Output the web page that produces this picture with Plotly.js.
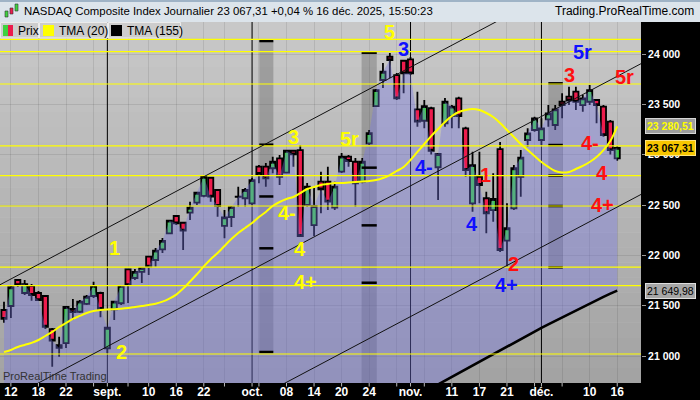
<!DOCTYPE html>
<html><head><meta charset="utf-8">
<script src="https://cdn.plot.ly/plotly-3.0.1.min.js"></script>
<style>html,body{margin:0;padding:0;background:#000;overflow:hidden}#chart{width:700px;height:400px}</style>
</head><body><div id="chart"></div>
<script>
// ---------------- DATA ----------------
const dates = [
 '2025-08-11','2025-08-12','2025-08-13','2025-08-14','2025-08-15',
 '2025-08-18','2025-08-19','2025-08-20','2025-08-21','2025-08-22',
 '2025-08-25','2025-08-26','2025-08-27','2025-08-28','2025-08-29',
 '2025-09-02','2025-09-03','2025-09-04','2025-09-05',
 '2025-09-08','2025-09-09','2025-09-10','2025-09-11','2025-09-12',
 '2025-09-15','2025-09-16','2025-09-17','2025-09-18','2025-09-19',
 '2025-09-22','2025-09-23','2025-09-24','2025-09-25','2025-09-26',
 '2025-09-29','2025-09-30',
 '2025-10-01','2025-10-02','2025-10-03',
 '2025-10-06','2025-10-07','2025-10-08','2025-10-09','2025-10-10',
 '2025-10-13','2025-10-14','2025-10-15','2025-10-16','2025-10-17',
 '2025-10-20','2025-10-21','2025-10-22','2025-10-23','2025-10-24',
 '2025-10-27','2025-10-28','2025-10-29','2025-10-30','2025-10-31',
 '2025-11-03','2025-11-04','2025-11-05','2025-11-06','2025-11-07',
 '2025-11-10','2025-11-11','2025-11-12','2025-11-13','2025-11-14',
 '2025-11-17','2025-11-18','2025-11-19','2025-11-20','2025-11-21',
 '2025-11-24','2025-11-25','2025-11-26','2025-11-28',
 '2025-12-01','2025-12-02','2025-12-03','2025-12-04','2025-12-05',
 '2025-12-08','2025-12-09','2025-12-10','2025-12-11','2025-12-12',
 '2025-12-15','2025-12-16'];

const openP = [21457,21497,21755,21626,21696,21626,21596,21268,21109,21129,
 21467,21440,21517,21596,21626,21077,21464,21524,21861,21775,
 21835,21987,21954,22060,22219,22391,22324,22424,22523,22590,
 22771,22649,22292,22381,22583,22567,22517,22881,22881,22865,
 22964,22821,23039,23046,22500,22301,22732,22732,22475,22831,
 22980,22930,22732,23113,23483,23742,23973,23791,23933,23947,
 23451,23337,23461,22875,23312,23384,23560,23262,22517,22781,
 22567,22450,23056,22146,22467,22781,23146,23245,23146,23351,
 23295,23526,23576,23626,23493,23526,23543,23477,23328,22964];
const highP = [21540,21705,21765,21755,21715,21646,21606,21278,21192,21490,
 21566,21556,21606,21738,21639,21291,21550,21705,21864,21864,
 21880,21990,22073,22172,22351,22401,22334,22533,22632,22798,
 22781,22656,22450,22490,22682,22669,22768,22897,22917,22980,
 22997,23046,23046,23096,22719,22669,22831,22881,22732,23017,
 22997,22967,22967,23245,23652,23911,24010,23811,23940,23970,
 23626,23543,23477,23017,23563,23493,23576,23278,23030,23030,
 22632,22815,23126,22517,22897,23046,23262,23377,23361,23493,
 23493,23610,23675,23675,23593,23692,23543,23493,23344,23085];
const lowP = [21331,21378,21686,21606,21550,21547,21268,20894,20993,21080,
 21358,21427,21507,21576,21385,21027,21358,21507,21527,21755,
 21725,21805,21887,22023,22209,22301,22053,22351,22500,22576,
 22533,22384,22169,22282,22483,22483,22500,22716,22682,22815,
 22699,22815,22881,22182,22483,22192,22418,22450,22450,22818,
 22881,22483,22716,23096,23477,23662,23762,23543,23610,23791,
 23278,23262,23003,22550,23278,23262,23262,22781,22434,22517,
 22219,22334,22033,21887,22450,22583,23079,23228,23096,23278,
 23245,23361,23493,23444,23427,23493,23312,23179,23003,22940];
const closeP = [21368,21683,21705,21715,21606,21556,21291,21152,21080,21487,
 21437,21540,21589,21696,21467,21281,21540,21696,21705,21835,
 21874,21887,22046,22143,22344,22318,22245,22473,22622,22781,
 22583,22490,22378,22480,22580,22649,22748,22808,22765,22930,
 22781,23039,23003,22192,22682,22490,22656,22533,22682,22980,
 22937,22716,22930,23215,23642,23824,23940,23560,23808,23808,
 23328,23483,23039,23007,23526,23477,23384,22848,22897,22699,
 22418,22560,22053,22269,22865,22970,23212,23361,23262,23411,
 23451,23493,23538,23526,23560,23642,23493,23195,23046,23067.31];

const tma20 = [21040,21060,21090,21110,21130,21159,21199,21239,21288,21328,
 21368,21398,21427,21447,21457,21462,21465,21470,21477,21487,
 21497,21507,21520,21540,21570,21610,21670,21740,21812,21890,
 21962,22023,22093,22162,22222,22272,22321,22381,22431,22490,
 22530,22560,22580,22619,22659,22679,22699,22709,22719,22719,
 22724,22729,22734,22738,22748,22768,22798,22838,22878,22947,
 23027,23106,23185,23255,23325,23384,23424,23444,23454,23444,
 23414,23374,23315,23245,23176,23106,23046,22987,22927,22878,
 22838,22823,22828,22858,22888,22927,22977,23046,23136,23280.51];

const tma155 = [null,null,null,null,null,null,null,null,null,null,
 null,null,null,null,null,null,null,null,null,null,
 null,null,null,null,null,null,null,null,null,null,
 null,null,null,null,null,null,null,null,null,null,
 null,null,null,null,null,null,null,null,null,null,
 null,null,null,null,null,null,null,null,null,null,
 null,null,20680,20718,20756,20794,20832,20870,20908,20946,
 20984,21022,21060,21097,21134,21171,21208,21245,21280,21315,
 21350,21385,21420,21455,21488,21522,21555,21588,21620,21649.98];

const tickDates = ['2025-08-12','2025-08-18','2025-08-22','2025-09-02','2025-09-10','2025-09-16','2025-09-22',
 '2025-10-01','2025-10-08','2025-10-14','2025-10-20','2025-10-24','2025-11-03','2025-11-11','2025-11-17',
 '2025-11-21','2025-12-01','2025-12-10','2025-12-16'];
const tickLabels = ['12','18','22','sept.','10','16','22','oct.','08','14','20','24','nov.','11','17','21','déc.','10','16'];
const minorTickDates = ['2025-08-28','2025-09-05','2025-09-25','2025-10-02','2025-10-30','2025-11-05','2025-11-28','2025-12-04'];
const monthStarts = ['2025-09-02','2025-10-01','2025-11-03','2025-12-01'];
const yTicks = [21000,21500,22000,22500,23000,23500,24000];

// horizontal support / resistance levels (yellow)
const levels = [24146,24023,23702,23088,22791,22490,21884,21700,21020];
// channel lines: [x0 index, y0, x1 index, y1]
const channels = [[-0.58,21708,92.45,25083],[-0.58,20530,92.45,23904],[-0.58,19231,92.45,22605]];
// time-cycle bands: index span, vertical span and marks
const bandStart = [37.05,51.9,79.0];
const bandEnd = [39.09,54.1,81.1];
const bandMarks = [[24129,23099,22585,22070,21040],[24013,22871,22298,21728,20586],[23709,23096,22791,22490,21881]];
// wave labels [index, value, text, colour]
const waveLabels = [
 [16.1,22073,'1','#ffff00'],[17.0,21043,'2','#ffff00'],[42.0,23171,'3','#ffff00'],
 [41.1,22421,'4-','#ffff00'],[43.0,22063,'4','#ffff00'],[43.8,21735,'4+','#ffff00'],
 [50.2,23159,'5r','#ffff00'],[55.9,24219,'5','#ffff00'],
 [58.0,24050,'3','#1010ff'],[61.0,22873,'4-','#1010ff'],[67.9,22311,'4','#1010ff'],
 [73.0,21705,'4+','#1010ff'],[84.0,24023,'5r','#1010ff'],
 [69.9,22803,'1','#ff1010'],[73.9,21914,'2','#ff1010'],[82.0,23791,'3','#ff1010'],
 [90.0,23767,'5r','#ff1010'],[85.0,23121,'4-','#ff1010'],[86.8,22823,'4','#ff1010'],
 [86.9,22500,'4+','#ff1010']];

// ---------------- BUILD ----------------
const W=700,H=400,mL=0,mR=59,mT=22,mB=17;
const pw=W-mL-mR, ph=H-mT-mB;
const P = x => (x-mL)/pw;          // pixel -> paper x
const Q = y => (H-mB-y)/ph;        // pixel -> paper y
const xr=[-0.58,92.45], yr=[20732,24318];
const idx = d => dates.indexOf(d);
const xs = dates.map((d,i)=>i);
const FF = 'Liberation Sans, Arial, sans-serif';

const baseline = tma155.map(v => v==null ? yr[0]-200 : v);

const traces = [
 {x:xs, y:baseline, type:'scatter', mode:'lines', line:{width:0,color:'rgba(0,0,0,0)'}, hoverinfo:'skip', showlegend:false},
 {x:xs, y:closeP, type:'scatter', mode:'lines', line:{width:0,color:'rgba(0,0,0,0)'}, fill:'tonexty', fillcolor:'rgba(118,118,228,0.38)', hoverinfo:'skip', showlegend:false},
 {x:xs, open:openP, high:highP, low:lowP, close:closeP, type:'candlestick', hoverinfo:'skip', showlegend:false,
  increasing:{line:{color:'#000',width:1.8}, fillcolor:'#3fd23f'},
  decreasing:{line:{color:'#000',width:1.8}, fillcolor:'#ec1c4c'}, whiskerwidth:0},
 {x:xs, y:tma155, type:'scatter', mode:'lines', line:{width:2.6,color:'#000'}, hoverinfo:'skip', showlegend:false},
 {x:xs, y:tma20, type:'scatter', mode:'lines', line:{width:2,color:'#ffff00', shape:'spline'}, hoverinfo:'skip', showlegend:false}
];

const shapes = [];
// gradient background strips
const NS=24;
for(let k=0;k<NS;k++){
  const c = Math.round(200 - (200-163)*k/(NS-1));
  shapes.push({type:'rect', xref:'paper', yref:'paper', x0:0, x1:1, y0:1-(k+1)/NS, y1:1-k/NS, line:{width:0}, fillcolor:`rgb(${c},${c},${c})`, layer:'below'});
}
// bands
bandStart.forEach((s,k)=>{
  const m = bandMarks[k];
  shapes.push({type:'rect', xref:'x', yref:'y', x0:s, x1:bandEnd[k], y0:m[m.length-1], y1:m[0], line:{width:0}, fillcolor:'rgba(60,60,60,0.28)', layer:'between'});
  m.forEach(v=>shapes.push({type:'line', xref:'x', yref:'y', x0:s, x1:bandEnd[k], y0:v, y1:v, line:{color:'#000',width:2.5}, layer:'above'}));
});
// month separators
monthStarts.forEach(d=>shapes.push({type:'line', xref:'x', yref:'paper', x0:idx(d), x1:idx(d), y0:0, y1:1, line:{color:'#000',width:1}, layer:'between'}));
// yellow levels
levels.forEach(v=>shapes.push({type:'line', xref:'paper', yref:'y', x0:0, x1:1, y0:v, y1:v, line:{color:'#ffff00',width:1.2}, layer:'above'}));
// channels
channels.forEach(c=>shapes.push({type:'line', xref:'x', yref:'y', x0:c[0], y0:c[1], x1:c[2], y1:c[3], line:{color:'#111',width:1}, layer:'above'}));
// x tick marks (below the plot)
tickDates.concat(minorTickDates).forEach(d=>shapes.push({type:'line', xref:'x', yref:'paper', x0:idx(d), x1:idx(d), y0:Q(383), y1:Q(386.5), line:{color:'#bbbbbb',width:1}, layer:'above'}));
// header
shapes.push({type:'rect', xref:'paper', yref:'paper', x0:0, x1:W/pw, y0:Q(22), y1:Q(0), line:{width:0}, fillcolor:'#dce4eb', layer:'above'});
shapes.push({type:'rect', xref:'paper', yref:'paper', x0:0, x1:W/pw, y0:Q(2), y1:Q(0), line:{width:0}, fillcolor:'#9fb3c6', layer:'above'});
// legend boxes
[[0,39],[39,108],[108,181]].forEach(b=>shapes.push({type:'rect', xref:'paper', yref:'paper', x0:P(b[0]+0.5), x1:P(b[1]-0.5), y0:Q(38), y1:Q(22.5), line:{color:'#ececec',width:1}, fillcolor:'#cdcdcd', layer:'above'}));
const sw = (x0,x1,col)=>shapes.push({type:'rect', xref:'paper', yref:'paper', x0:P(x0), x1:P(x1), y0:Q(36), y1:Q(25), line:{width:0}, fillcolor:col, layer:'above'});
sw(3,8,'#3fd23f'); sw(8,13,'#ec1c4c'); sw(43,54,'#ffff00'); sw(111,122,'#000');
// header icon (small candles)
const ic = (x,y0,y1,col)=>{shapes.push({type:'rect', xref:'paper', yref:'paper', x0:P(x), x1:P(x+3), y0:Q(y1), y1:Q(y0), line:{color:'#333',width:0.6}, fillcolor:col, layer:'above'});};
ic(5,11,17,'#3fd23f'); ic(10,8,14,'#ec1c4c'); ic(15,4,11,'#3fd23f');

const annotations = [];
annotations.push({xref:'paper', yref:'paper', x:P(22), y:Q(11.5), xanchor:'left', yanchor:'middle', showarrow:false,
  text:'NASDAQ Composite Index Journalier 23 067,31 +0,04 % 16 déc. 2025, 15:50:23', font:{family:FF,size:11.4,color:'#000'}});
annotations.push({xref:'paper', yref:'paper', x:P(696), y:Q(11.5), xanchor:'right', yanchor:'middle', showarrow:false,
  text:'Trading.ProRealTime.com', font:{family:FF,size:12,color:'#000'}});
[['Prix',16],['TMA (20)',57],['TMA (155)',125]].forEach(l=>annotations.push({xref:'paper', yref:'paper', x:P(l[1]), y:Q(30.5), xanchor:'left', yanchor:'middle', showarrow:false, text:l[0], font:{family:FF,size:12,color:'#000'}}));
annotations.push({xref:'paper', yref:'paper', x:P(1), y:Q(376), xanchor:'left', yanchor:'middle', showarrow:false, text:'ProRealTime Trading', font:{family:FF,size:11,color:'#333'}});
waveLabels.forEach(w=>annotations.push({xref:'x', yref:'y', x:w[0], y:w[1], text:w[2], showarrow:false, xanchor:'center', yanchor:'middle', font:{family:FF,size:20,color:w[3],weight:'bold'}}));
// price labels on the right axis
const fmt = v => v.toFixed(2).replace('.',',').replace(/\B(?=(\d{3})+(?!\d))/g,' ');
const lastT20 = tma20[tma20.length-1], lastC = closeP[closeP.length-1], lastT155 = tma155[tma155.length-1];
annotations.push({xref:'paper', yref:'y', x:P(645), y:lastT20, xanchor:'left', yanchor:'middle', showarrow:false, text:fmt(lastT20), bgcolor:'#9d9d9d', bordercolor:'#d6d6d6', borderwidth:1, borderpad:1, font:{family:FF,size:10.5,color:'#ffff00',weight:'bold'}});
annotations.push({xref:'paper', yref:'y', x:P(645), y:lastC, xanchor:'left', yanchor:'middle', showarrow:false, text:fmt(lastC), bgcolor:'#f7c600', bordercolor:'#ffe47a', borderwidth:1, borderpad:1, font:{family:FF,size:10.5,color:'#000',weight:'bold'}});
annotations.push({xref:'paper', yref:'y', x:P(645), y:lastT155, xanchor:'left', yanchor:'middle', showarrow:false, text:fmt(lastT155), bgcolor:'#a6a6a6', bordercolor:'#dedede', borderwidth:1, borderpad:1, font:{family:FF,size:10.5,color:'#000'}});

const layout = {
  width:W, height:H, margin:{l:mL,r:mR,t:mT,b:mB,pad:0},
  paper_bgcolor:'#000', plot_bgcolor:'#c0c0c0', showlegend:false, separators:', ',
  boxgap:0.25, boxgroupgap:0,
  xaxis:{range:xr, showgrid:true, gridcolor:'rgba(0,0,0,0.09)', zeroline:false, showline:false,
    tickvals:tickDates.map(idx), ticktext:tickLabels, ticks:'',
    tickfont:{family:FF,size:12,color:'#fff',weight:'bold'}, rangeslider:{visible:false}, fixedrange:true,
    minor:{tickvals:minorTickDates.map(idx), ticks:'', showgrid:true, gridcolor:'rgba(0,0,0,0.09)'}},
  yaxis:{range:yr, side:'right', tickvals:yTicks, tickformat:',d', ticks:'outside', ticklen:4, tickcolor:'#999',
    showgrid:true, gridcolor:'rgba(0,0,0,0.09)', zeroline:false, showline:false,
    tickfont:{family:FF,size:10.5,color:'#fff',weight:'bold'}, fixedrange:true},
  shapes:shapes, annotations:annotations
};
Plotly.newPlot('chart', traces, layout, {displayModeBar:false, staticPlot:true});
</script></body></html>
